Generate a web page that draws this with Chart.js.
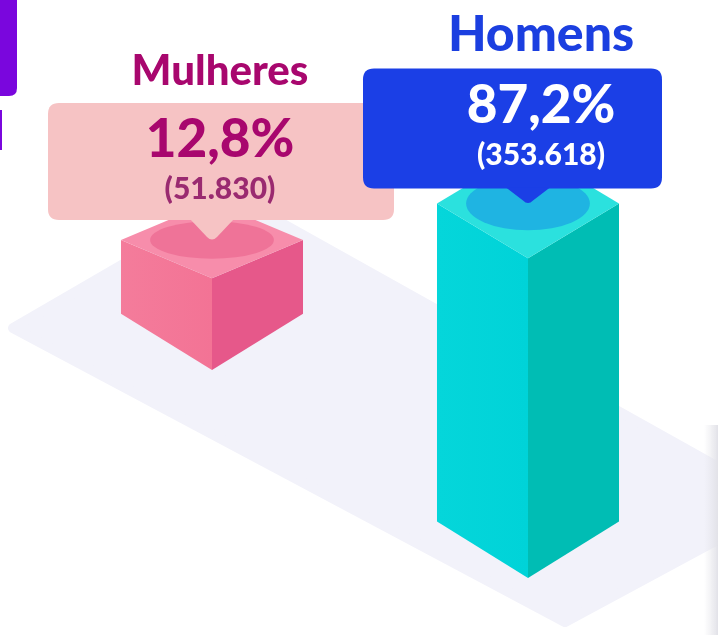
<!DOCTYPE html>
<html>
<head>
<meta charset="utf-8">
<script src="https://cdn.jsdelivr.net/npm/chart.js@4.4.1/dist/chart.umd.min.js"></script>
<style>
  html, body { margin: 0; padding: 0; background: #fff; }
  #wrap { position: relative; width: 718px; height: 635px; overflow: hidden; }
</style>
</head>
<body>
<div id="wrap"><canvas id="chart"></canvas></div>
<script>
// Dados
const categories = ['Mulheres', 'Homens'];
const percentages = [12.8, 87.2];
const totals = [51830, 353618];

// Base visual da escala (o "chão" do gráfico isométrico)
const floorValue = -17.2;

// Estilos por barra
const barStyles = [
  { left: '#f37395', leftLight: '#f47c9b', right: '#e6588a', top: '#f78dab', spot: '#ef7398',
    box: '#f6c3c4', title: '#a8076e', pct: '#a8076e', sub: '#9a2a70', topSlope: 0.42,
    boxL: -164, boxR: 182, gap: 20, boxH: 117, textDx: 8 },
  { left: '#00d3d8', leftLight: '#05d6da', right: '#00bdb4', top: '#2be1de', spot: '#1fb4e2',
    box: '#1b3fe6', title: '#1b3fe0', pct: '#ffffff', sub: '#ffffff', topSlope: 0.6,
    boxL: -165, boxR: 134, gap: 15, boxH: 120, textDx: 13 }
];

function fmtPct(v) {
  return v.toFixed(1).replace('.', ',') + '%';
}
function fmtInt(v) {
  return '(' + String(v).replace(/\B(?=(\d{3})+(?!\d))/g, '.') + ')';
}

function roundRect(ctx, x, y, w, h, r) {
  ctx.beginPath();
  ctx.moveTo(x + r, y);
  ctx.lineTo(x + w - r, y);
  ctx.quadraticCurveTo(x + w, y, x + w, y + r);
  ctx.lineTo(x + w, y + h - r);
  ctx.quadraticCurveTo(x + w, y + h, x + w - r, y + h);
  ctx.lineTo(x + r, y + h);
  ctx.quadraticCurveTo(x, y + h, x, y + h - r);
  ctx.lineTo(x, y + r);
  ctx.quadraticCurveTo(x, y, x + r, y);
  ctx.closePath();
}

// Desenha as barras como prismas isométricos a partir das posições do Chart.js
const isoPlugin = {
  id: 'iso',
  beforeDatasetsDraw(chart) {
    const ctx = chart.ctx;
    const meta = chart.getDatasetMeta(0);
    const yScale = chart.scales.y;
    const last = meta.data[meta.data.length - 1];
    const fx = last.x, fy = yScale.getPixelForValue(floorValue);

    ctx.save();
    // detalhes de recorte no canto
    ctx.fillStyle = '#7a06dd';
    roundRect(ctx, -12, -10, 29, 106, 8);
    ctx.fill();
    ctx.fillRect(0, 110, 2, 40);

    // plataforma
    ctx.fillStyle = '#f2f2fa';
    ctx.strokeStyle = '#f2f2fa';
    ctx.lineWidth = 10;
    ctx.lineJoin = 'round';
    ctx.beginPath();
    ctx.moveTo(fx - 515, fy - 250);
    ctx.lineTo(fx - 291, fy - 380);
    ctx.lineTo(fx + 256, fy - 74);
    ctx.lineTo(fx + 37, fy + 44);
    ctx.closePath();
    ctx.fill();
    ctx.stroke();

    // sombra da borda direita
    const g = ctx.createLinearGradient(704, 0, 718, 0);
    g.addColorStop(0, 'rgba(230,230,236,0)');
    g.addColorStop(1, 'rgba(226,226,232,1)');
    ctx.fillStyle = g;
    ctx.fillRect(704, 425, 14, 210);
    ctx.restore();
  },
  afterDatasetsDraw(chart) {
    const ctx = chart.ctx;
    const meta = chart.getDatasetMeta(0);
    const yScale = chart.scales.y;
    const lastX = meta.data[meta.data.length - 1].x;
    const basePx = yScale.getPixelForValue(floorValue);
    const floorSlope = 0.658, s = 0.62;

    meta.data.forEach((bar, i) => {
      const st = barStyles[i];
      const w = bar.width / 2;
      const h = basePx - bar.y;
      const fx = bar.x;
      const fy = basePx - (lastX - bar.x) * floorSlope;
      const ft = fy - h;
      const ts = st.topSlope;

      ctx.save();
      // face esquerda
      const lg = ctx.createLinearGradient(fx - w, 0, fx, 0);
      lg.addColorStop(0, st.leftLight);
      lg.addColorStop(1, st.left);
      ctx.fillStyle = lg;
      ctx.beginPath();
      ctx.moveTo(fx - w, fy - w * s);
      ctx.lineTo(fx, fy);
      ctx.lineTo(fx, ft);
      ctx.lineTo(fx - w, ft - w * ts);
      ctx.closePath();
      ctx.fill();
      // face direita
      ctx.fillStyle = st.right;
      ctx.beginPath();
      ctx.moveTo(fx, fy);
      ctx.lineTo(fx + w, fy - w * s);
      ctx.lineTo(fx + w, ft - w * ts);
      ctx.lineTo(fx, ft);
      ctx.closePath();
      ctx.fill();
      // topo
      ctx.fillStyle = st.top;
      ctx.beginPath();
      ctx.moveTo(fx, ft);
      ctx.lineTo(fx - w, ft - w * ts);
      ctx.lineTo(fx, ft - 2 * w * ts);
      ctx.lineTo(fx + w, ft - w * ts);
      ctx.closePath();
      ctx.fill();
      const cy = ft - w * ts;
      ctx.fillStyle = st.spot;
      ctx.beginPath();
      ctx.ellipse(fx, cy, w * 0.68, w * 0.68 * ts * 0.72, 0, 0, Math.PI * 2);
      ctx.fill();

      // balão
      const bx = fx + st.boxL, bw = st.boxR - st.boxL;
      const bBottom = cy - st.gap, by = bBottom - st.boxH;
      ctx.fillStyle = st.box;
      roundRect(ctx, bx, by, bw, st.boxH, 11);
      ctx.fill();
      ctx.beginPath();
      ctx.moveTo(fx - 22, bBottom - 1);
      ctx.lineTo(fx - 5, cy - 3);
      ctx.quadraticCurveTo(fx, cy + 2, fx + 5, cy - 3);
      ctx.lineTo(fx + 22, bBottom - 1);
      ctx.closePath();
      ctx.fill();

      // textos
      const tx = fx + st.textDx;
      ctx.textAlign = 'center';
      ctx.textBaseline = 'alphabetic';
      ctx.fillStyle = st.title;
      ctx.font = '900 ' + (i === 0 ? 42 : 50) + 'px Lato';
      ctx.fillText(categories[i], tx, by - 18);
      ctx.fillStyle = st.pct;
      ctx.font = '900 53px Lato';
      ctx.fillText(fmtPct(percentages[i]), tx, by + 54);
      ctx.fillStyle = st.sub;
      ctx.font = '900 30px Lato';
      ctx.fillText(fmtInt(totals[i]), tx, by + 96);
      ctx.restore();
    });
  }
};

const ctx = document.getElementById('chart').getContext('2d');
new Chart(ctx, {
  type: 'bar',
  data: {
    labels: categories,
    datasets: [{
      data: percentages,
      backgroundColor: 'rgba(0,0,0,0)',
      borderWidth: 0,
      base: floorValue,
      categoryPercentage: 0.8,
      barPercentage: 0.72
    }]
  },
  options: {
    responsive: true,
    maintainAspectRatio: false,
    animation: false,
    events: [],
    layout: { padding: { left: 54, right: 32, top: 219, bottom: 57 } },
    plugins: {
      legend: { display: false },
      tooltip: { enabled: false }
    },
    scales: {
      x: { display: false },
      y: { display: false, min: floorValue, max: 100 }
    }
  },
  plugins: [isoPlugin]
});
</script>
</body>
</html>
